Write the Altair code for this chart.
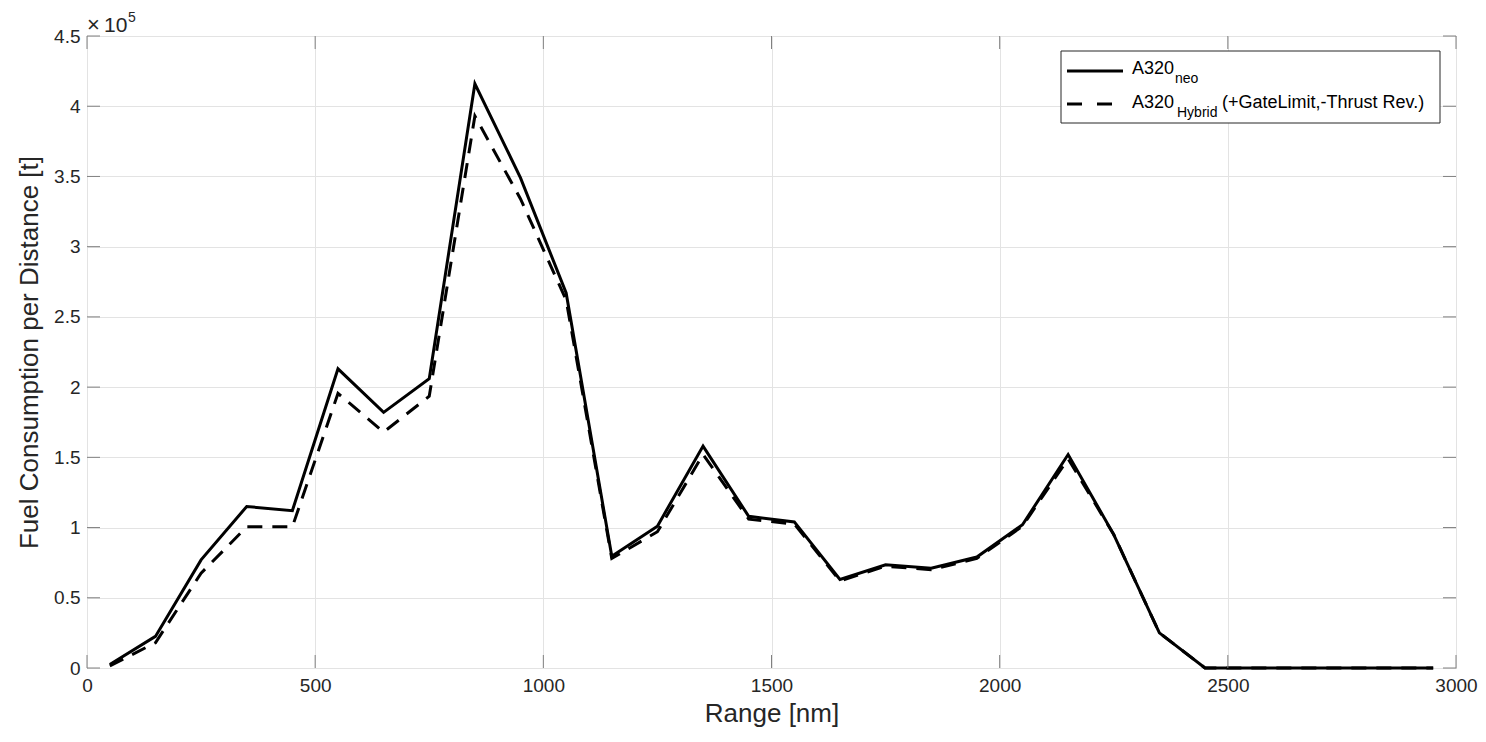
import altair as alt
import pandas as pd

# ---------------- data ----------------
range_nm = [50, 150, 250, 350, 450, 550, 650, 750, 850, 950,
            1050, 1150, 1250, 1350, 1450, 1550, 1650, 1750, 1850, 1950,
            2050, 2150, 2250, 2350, 2450, 2550, 2650, 2750, 2850, 2950]

fuel_neo = [2500, 22500, 77000, 115000, 112000, 213000, 182000, 206000, 416000, 349000,
            267000, 79500, 101000, 158000, 108000, 104000, 63000, 73500, 71000, 79000,
            102000, 152000, 95000, 25000, 0, 0, 0, 0, 0, 0]

fuel_hybrid = [1500, 18000, 67500, 100500, 100500, 195500, 168000, 193500, 393000, 334000,
               262000, 78000, 97000, 152000, 106000, 102500, 62000, 72500, 70000, 78000,
               101000, 149000, 95000, 25000, 0, 0, 0, 0, 0, 0]

x_ticks = [0, 500, 1000, 1500, 2000, 2500, 3000]
y_ticks = [0, 50000, 100000, 150000, 200000, 250000, 300000, 350000, 400000, 450000]

legend_main = ["A320", "A320"]
legend_sub = ["neo", "Hybrid"]
legend_tail = "(+GateLimit,-Thrust Rev.)"

# ---------------- styling ----------------
W, H = 1369, 632
FONT = "Liberation Sans"
TXT = "#262626"
FRAME = "#808080"
GRID = "#e3e3e3"
LW = 3

xs = alt.Scale(domain=[0, 3000], nice=False, zero=False)
ys = alt.Scale(domain=[0, 450000], nice=False)

X_AXIS = alt.Axis(values=x_ticks, format="d", grid=True, ticks=False, domain=False,
                  labelFlush=False, labelPadding=8, titlePadding=5)
Y_AXIS = alt.Axis(values=y_ticks, grid=True, ticks=False, domain=False,
                  labelFlush=False,
                  labelExpr="format(datum.value / 100000, '~g')",
                  labelPadding=7, titlePadding=11)
X_TITLE = "Range [nm]"
Y_TITLE = "Fuel Consumption per Distance [t]"


def xenc(field):
    return alt.X(field, scale=xs, title=X_TITLE, axis=X_AXIS)


def yenc(field):
    return alt.Y(field, scale=ys, title=Y_TITLE, axis=Y_AXIS)


df = pd.DataFrame({"range": range_nm, "neo": fuel_neo, "hybrid": fuel_hybrid})
base = alt.Chart(df)

neo_line = base.mark_line(color="black", strokeWidth=LW, strokeJoin="miter").encode(
    x=xenc("range:Q"), y=yenc("neo:Q"))

hyb_line = base.mark_line(color="black", strokeWidth=LW, strokeDash=[15, 10],
                          strokeJoin="miter").encode(
    x=xenc("range:Q"), y=yenc("hybrid:Q"))

# inward tick marks on all four sides
xt = pd.DataFrame({"t": x_ticks})
yt = pd.DataFrame({"t": y_ticks})
TL = 13
bottom_ticks = alt.Chart(xt).mark_rule(color=FRAME, strokeWidth=1).encode(
    x=xenc("t:Q"), y=alt.value(H), y2=alt.value(H - TL))
top_ticks = alt.Chart(xt).mark_rule(color=FRAME, strokeWidth=1).encode(
    x=xenc("t:Q"), y=alt.value(0), y2=alt.value(TL))
left_ticks = alt.Chart(yt).mark_rule(color=FRAME, strokeWidth=1).encode(
    y=yenc("t:Q"), x=alt.value(0), x2=alt.value(TL))
right_ticks = alt.Chart(yt).mark_rule(color=FRAME, strokeWidth=1).encode(
    y=yenc("t:Q"), x=alt.value(W), x2=alt.value(W - TL))

# exponent label  x10^5
one = pd.DataFrame({"k": [0]})


def txt(s, x, y, size, color="black"):
    return alt.Chart(one).mark_text(align="left", baseline="alphabetic", font=FONT,
                                    fontSize=size, color=color).encode(
        x=alt.value(x), y=alt.value(y), text=alt.value(s))


exp_times = txt("×", 0, -4, 22, TXT)
exp_ten = txt("10", 17, -4, 21, TXT)
exp_five = txt("5", 41, -14, 14, TXT)

# legend (built by hand for the subscripts)
leg_box = alt.Chart(one).mark_rect(fill="white", stroke="#262626", strokeWidth=1).encode(
    x=alt.value(974), x2=alt.value(1353), y=alt.value(15), y2=alt.value(87))
leg_solid = alt.Chart(one).mark_rule(color="black", strokeWidth=LW).encode(
    x=alt.value(980), x2=alt.value(1036), y=alt.value(35))
leg_dash = alt.Chart(one).mark_rule(color="black", strokeWidth=LW, strokeDash=[15, 15]).encode(
    x=alt.value(980), x2=alt.value(1036), y=alt.value(68))

leg_texts = [
    txt(legend_main[0], 1045, 38, 18),
    txt(legend_sub[0], 1088, 47, 14),
    txt(legend_main[1], 1045, 72, 18),
    txt(legend_sub[1], 1090, 81, 14),
    txt(legend_tail, 1135, 72, 18),
]

chart = alt.layer(
    neo_line, hyb_line,
    bottom_ticks, top_ticks, left_ticks, right_ticks,
    exp_times, exp_ten, exp_five,
    leg_box, leg_solid, leg_dash, *leg_texts,
).properties(
    width=W, height=H,
    padding={"left": 79, "top": 28, "right": 22, "bottom": 64},
    autosize=alt.AutoSizeParams(type="none"),
    background="white",
).configure_view(
    stroke=FRAME, strokeWidth=1,
).configure_axis(
    labelFont=FONT, labelFontSize=19, labelColor=TXT,
    titleFont=FONT, titleFontSize=26, titleFontWeight="normal", titleColor=TXT,
    gridColor=GRID, gridWidth=1,
)

chart.save("out.html", embed_options={"renderer": "svg", "actions": False})
